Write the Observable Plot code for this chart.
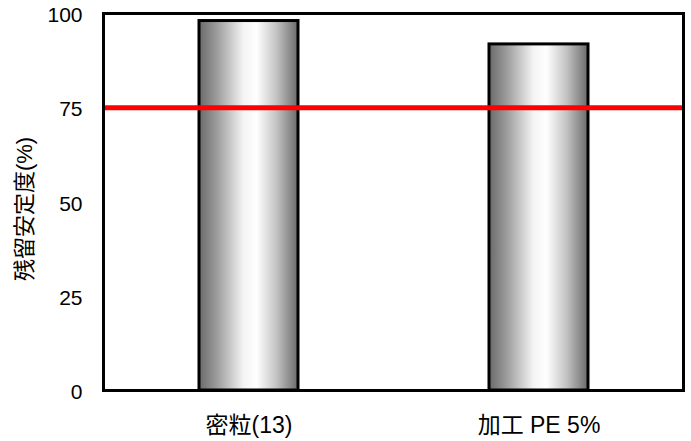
<!DOCTYPE html>
<html>
<head>
<meta charset="utf-8">
<script src="https://cdn.jsdelivr.net/npm/d3@7"></script>
<script src="https://cdn.jsdelivr.net/npm/@observablehq/plot@0.6"></script>
<style>
  body { margin: 0; background: #fff; }
  svg { font-family: "Liberation Sans", "Noto Sans CJK JP", sans-serif; }
</style>
</head>
<body>
<div id="chart"></div>
<script>
// Residual stability by sample, with the 75% reference level
const categories = ["密粒(13)", "加工 PE 5%"];
const values = [98, 91.8];
const threshold = 75;
const yTicks = [0, 25, 50, 75, 100];
const yTitle = "残留安定度(%)";

const data = categories.map((name, i) => ({name, value: values[i]}));

// Cylinder-like shading for the bars
function gradientDefs() {
  const svg = d3.create("svg:defs");
  const g = svg.append("linearGradient").attr("id", "barShade")
    .attr("x1", 0).attr("x2", 1).attr("y1", 0).attr("y2", 0);
  [[0, "#6a6a6a"], [0.18, "#9c9c9c"], [0.45, "#f4f4f4"], [0.58, "#ffffff"],
   [0.78, "#c4c4c4"], [1, "#6a6a6a"]].forEach(([o, c]) =>
    g.append("stop").attr("offset", o).attr("stop-color", c));
  return svg.node();
}

const chart = Plot.plot({
  width: 691,
  height: 441,
  marginLeft: 103,
  marginRight: 8,
  marginTop: 13,
  marginBottom: 51,
  style: {fontSize: "22px", color: "#000", background: "#fff"},
  x: {domain: categories, paddingInner: 0.66, paddingOuter: 0.33, label: null},
  y: {domain: [0, 100], label: null},
  marks: [
    gradientDefs,
    Plot.barY(data, {x: "name", y: "value", fill: "url(#barShade)", stroke: "#000", strokeWidth: 3}),
    Plot.ruleY([threshold], {stroke: "#ff0000", strokeWidth: 5}),
    Plot.frame({stroke: "#000", strokeWidth: 3}),
    Plot.axisY(yTicks, {tickSize: 0, tickPadding: 21, fontSize: 21, dy: 2, label: null}),
    Plot.axisX({tickSize: 0, tickPadding: 26, fontSize: 23, label: null, letterSpacing: "1.5px"}),
    // rotated y-axis title
    Plot.text([yTitle], {frameAnchor: "left", textAnchor: "middle", dx: -79, dy: 7,
      rotate: -90, fontSize: 22, text: d => d})
  ]
});
document.getElementById("chart").append(chart);
</script>
</body>
</html>
